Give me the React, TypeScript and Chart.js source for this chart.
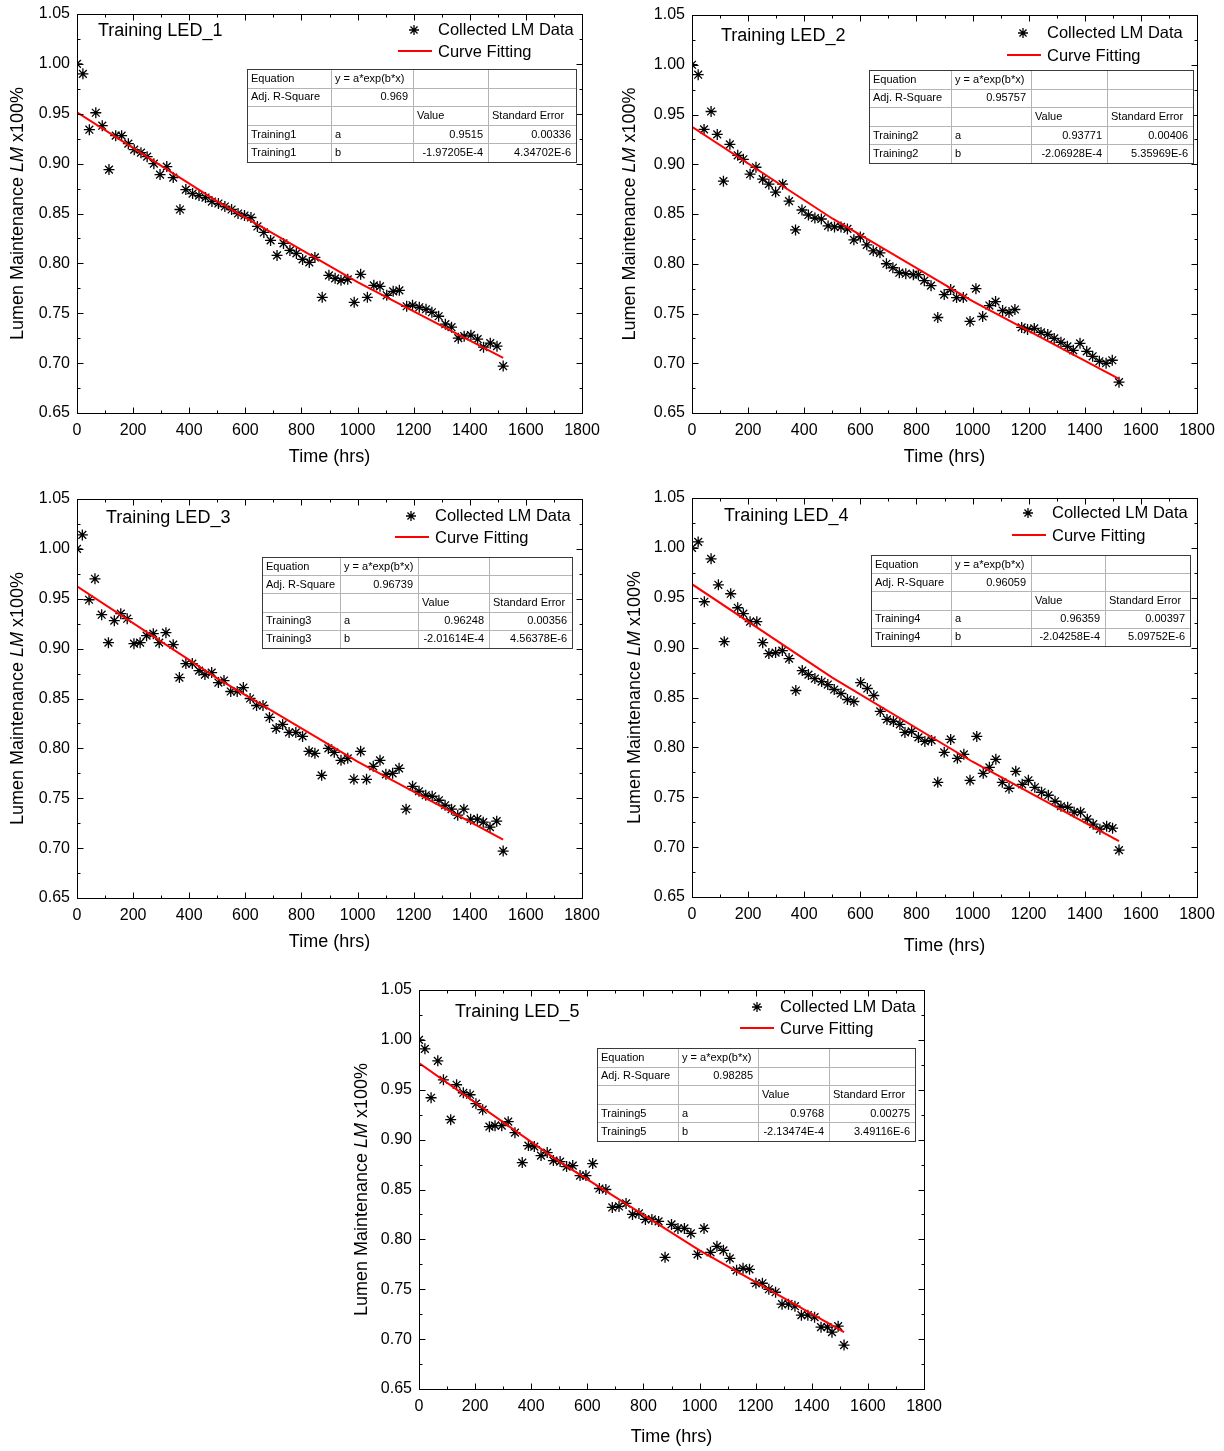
import React, { useEffect, useRef } from 'react';
import { Chart, registerables } from 'chart.js';

Chart.register(...registerables);

const FONT = '"Liberation Sans", Arial, Helvetica, sans-serif';

// ---------- axis ticks ----------
const xTickValues = [0, 200, 400, 600, 800, 1000, 1200, 1400, 1600, 1800];
const yTickValues = [0.65, 0.7, 0.75, 0.8, 0.85, 0.9, 0.95, 1.0, 1.05];

const tableHeader = ['Equation', 'y = a*exp(b*x)', 'Adj. R-Square', 'Value', 'Standard Error'];

// ---------- Training LED_1 ----------
const led1Time = [0, 21, 44, 67, 90, 114, 138, 159, 183, 204, 228, 250, 274, 296, 320, 343, 367, 388, 412, 435, 458, 481, 504, 527, 551, 574, 597, 620, 643, 666, 690, 713, 736, 759, 782, 804, 828, 848, 874, 898, 920, 941, 965, 988, 1011, 1035, 1058, 1080, 1104, 1127, 1149, 1175, 1196, 1220, 1244, 1265, 1289, 1313, 1335, 1359, 1380, 1404, 1428, 1449, 1473, 1497, 1519];
const led1LM = [1.000, 0.990, 0.934, 0.951, 0.938, 0.894, 0.928, 0.928, 0.920, 0.914, 0.911, 0.907, 0.900, 0.889, 0.897, 0.886, 0.854, 0.874, 0.870, 0.868, 0.866, 0.862, 0.860, 0.857, 0.854, 0.850, 0.848, 0.846, 0.837, 0.831, 0.823, 0.808, 0.820, 0.813, 0.810, 0.804, 0.801, 0.806, 0.766, 0.788, 0.785, 0.783, 0.784, 0.761, 0.789, 0.766, 0.778, 0.777, 0.768, 0.772, 0.773, 0.757, 0.758, 0.756, 0.754, 0.751, 0.747, 0.739, 0.736, 0.725, 0.727, 0.728, 0.724, 0.716, 0.720, 0.717, 0.697];
const led1FitTime = [0, 500, 1000, 1519];
const led1Fit = [0.9515, 0.8622, 0.7812, 0.7052];
const led1Params = ['0.969', '0.9515', '0.00336', '-1.97205E-4', '4.34702E-6'];

// ---------- Training LED_2 ----------
const led2Time = [0, 22, 43, 68, 90, 112, 135, 163, 183, 207, 228, 252, 274, 298, 323, 346, 369, 392, 415, 438, 461, 485, 508, 531, 554, 577, 600, 623, 646, 670, 693, 716, 739, 762, 789, 807, 828, 852, 876, 899, 922, 943, 967, 991, 1012, 1036, 1060, 1082, 1107, 1130, 1151, 1175, 1196, 1220, 1244, 1268, 1291, 1315, 1338, 1359, 1383, 1407, 1428, 1452, 1476, 1498, 1522];
const led2LM = [1.000, 0.990, 0.935, 0.953, 0.930, 0.883, 0.920, 0.909, 0.905, 0.890, 0.897, 0.885, 0.880, 0.872, 0.880, 0.863, 0.834, 0.854, 0.849, 0.846, 0.845, 0.838, 0.837, 0.837, 0.835, 0.824, 0.827, 0.819, 0.813, 0.811, 0.800, 0.796, 0.791, 0.790, 0.789, 0.789, 0.783, 0.778, 0.746, 0.769, 0.774, 0.766, 0.766, 0.742, 0.775, 0.747, 0.758, 0.762, 0.753, 0.751, 0.754, 0.736, 0.734, 0.735, 0.731, 0.729, 0.725, 0.721, 0.717, 0.713, 0.720, 0.712, 0.707, 0.702, 0.700, 0.703, 0.681];
const led2FitTime = [0, 500, 1000, 1522];
const led2Fit = [0.9377, 0.8455, 0.7624, 0.6844];
const led2Params = ['0.95757', '0.93771', '0.00406', '-2.06928E-4', '5.35969E-6'];

// ---------- Training LED_3 ----------
const led3Time = [0, 19, 43, 64, 88, 112, 133, 156, 179, 203, 225, 248, 272, 293, 317, 343, 365, 388, 411, 435, 456, 480, 504, 524, 548, 571, 593, 617, 640, 663, 686, 710, 733, 756, 780, 804, 827, 848, 872, 896, 917, 941, 965, 987, 1011, 1032, 1056, 1080, 1101, 1125, 1148, 1173, 1196, 1219, 1243, 1266, 1290, 1312, 1335, 1357, 1379, 1403, 1427, 1448, 1472, 1496, 1519];
const led3LM = [1.000, 1.014, 0.949, 0.970, 0.934, 0.906, 0.928, 0.935, 0.930, 0.905, 0.906, 0.913, 0.915, 0.906, 0.916, 0.904, 0.871, 0.885, 0.885, 0.878, 0.874, 0.876, 0.866, 0.868, 0.857, 0.857, 0.861, 0.850, 0.843, 0.843, 0.831, 0.820, 0.824, 0.816, 0.816, 0.812, 0.797, 0.795, 0.773, 0.800, 0.796, 0.788, 0.790, 0.769, 0.797, 0.769, 0.782, 0.788, 0.774, 0.775, 0.780, 0.739, 0.762, 0.757, 0.753, 0.752, 0.748, 0.743, 0.739, 0.733, 0.739, 0.729, 0.729, 0.726, 0.721, 0.727, 0.697];
const led3FitTime = [0, 500, 1000, 1519];
const led3Fit = [0.9625, 0.8702, 0.7868, 0.7086];
const led3Params = ['0.96739', '0.96248', '0.00356', '-2.01614E-4', '4.56378E-6'];

// ---------- Training LED_4 ----------
const led4Time = [0, 22, 44, 68, 94, 115, 138, 163, 183, 207, 231, 252, 274, 298, 322, 346, 370, 393, 415, 438, 462, 484, 507, 531, 554, 577, 601, 625, 648, 671, 695, 718, 741, 759, 783, 807, 830, 854, 876, 899, 922, 946, 969, 991, 1015, 1038, 1060, 1083, 1106, 1130, 1154, 1177, 1199, 1222, 1246, 1270, 1294, 1315, 1339, 1362, 1385, 1409, 1430, 1454, 1478, 1499, 1522];
const led4LM = [1.000, 1.006, 0.946, 0.989, 0.963, 0.906, 0.954, 0.940, 0.934, 0.926, 0.926, 0.905, 0.894, 0.895, 0.897, 0.889, 0.857, 0.877, 0.873, 0.869, 0.866, 0.863, 0.858, 0.854, 0.848, 0.846, 0.865, 0.859, 0.852, 0.836, 0.828, 0.826, 0.823, 0.815, 0.816, 0.810, 0.806, 0.807, 0.765, 0.795, 0.808, 0.789, 0.793, 0.767, 0.811, 0.774, 0.780, 0.788, 0.765, 0.759, 0.776, 0.763, 0.767, 0.760, 0.755, 0.752, 0.746, 0.741, 0.740, 0.735, 0.735, 0.728, 0.723, 0.718, 0.721, 0.719, 0.697];
const led4FitTime = [0, 500, 1000, 1522];
const led4Fit = [0.9636, 0.8700, 0.7856, 0.7061];
const led4Params = ['0.96059', '0.96359', '0.00397', '-2.04258E-4', '5.09752E-6'];

// ---------- Training LED_5 ----------
const led5Time = [0, 21, 43, 67, 87, 113, 134, 158, 182, 203, 227, 251, 271, 295, 318, 342, 368, 390, 411, 435, 457, 479, 503, 526, 548, 574, 595, 619, 643, 666, 689, 713, 738, 761, 784, 807, 830, 854, 877, 900, 923, 946, 969, 993, 1016, 1039, 1062, 1085, 1108, 1132, 1155, 1178, 1201, 1224, 1247, 1271, 1294, 1317, 1340, 1363, 1386, 1410, 1433, 1456, 1472, 1494, 1515];
const led5LM = [1.000, 0.991, 0.942, 0.979, 0.960, 0.920, 0.955, 0.947, 0.945, 0.936, 0.930, 0.913, 0.914, 0.914, 0.918, 0.907, 0.877, 0.894, 0.893, 0.884, 0.887, 0.879, 0.878, 0.873, 0.874, 0.864, 0.864, 0.876, 0.851, 0.850, 0.832, 0.833, 0.836, 0.825, 0.826, 0.820, 0.820, 0.818, 0.782, 0.815, 0.811, 0.811, 0.806, 0.785, 0.811, 0.787, 0.793, 0.789, 0.781, 0.769, 0.771, 0.770, 0.756, 0.756, 0.750, 0.747, 0.735, 0.735, 0.733, 0.724, 0.724, 0.722, 0.712, 0.712, 0.707, 0.713, 0.694];
const led5FitTime = [0, 500, 1000, 1515];
const led5Fit = [0.9768, 0.8779, 0.7890, 0.7069];
const led5Params = ['0.98285', '0.9768', '0.00275', '-2.13474E-4', '3.49116E-6'];

// ---------- layout (positions only) ----------
type Layout = {
  x: number; y: number; w: number; h: number;
  area: { l: number; t: number; r: number; b: number };
  title: [number, number];
  legendStar: [number, number];
  legendLineY: number;
  legendText: number;
  table: { x: number; y: number; cols: number[]; h: number };
  yTitleX: number;
  xTitleY: number;
};

const layouts: Layout[] = [
  { x: 0, y: 0, w: 612, h: 475, area: { l: 77, t: 14, r: 582, b: 413 }, title: [98, 31], legendStar: [414, 30], legendLineY: 51, legendText: 438, table: { x: 247, y: 69, cols: [84, 82, 75, 88], h: 93 }, yTitleX: 18, xTitleY: 457 },
  { x: 612, y: 0, w: 612, h: 475, area: { l: 80, t: 15, r: 585, b: 413 }, title: [109, 36], legendStar: [411, 33], legendLineY: 55, legendText: 435, table: { x: 257, y: 70, cols: [82, 80, 76, 86], h: 93 }, yTitleX: 18, xTitleY: 457 },
  { x: 0, y: 485, w: 612, h: 480, area: { l: 77, t: 14, r: 582, b: 413 }, title: [106, 33], legendStar: [411, 31], legendLineY: 52, legendText: 435, table: { x: 262, y: 72, cols: [78, 78, 71, 83], h: 91 }, yTitleX: 18, xTitleY: 457 },
  { x: 612, y: 485, w: 612, h: 480, area: { l: 80, t: 13, r: 585, b: 412 }, title: [112, 31], legendStar: [416, 28], legendLineY: 50, legendText: 440, table: { x: 259, y: 70, cols: [80, 80, 74, 85], h: 91 }, yTitleX: 23, xTitleY: 461 },
  { x: 340, y: 975, w: 612, h: 476, area: { l: 79, t: 15, r: 584, b: 414 }, title: [115, 37], legendStar: [417, 32], legendLineY: 53, legendText: 440, table: { x: 257, y: 73, cols: [81, 80, 71, 86], h: 93 }, yTitleX: 22, xTitleY: 462 },
];

type Panel = {
  name: string; label: string; time: number[]; lm: number[];
  fitTime: number[]; fit: number[]; params: string[]; layout: Layout;
};

const panels: Panel[] = [
  { name: 'Training LED_1', label: 'Training1', time: led1Time, lm: led1LM, fitTime: led1FitTime, fit: led1Fit, params: led1Params, layout: layouts[0] },
  { name: 'Training LED_2', label: 'Training2', time: led2Time, lm: led2LM, fitTime: led2FitTime, fit: led2Fit, params: led2Params, layout: layouts[1] },
  { name: 'Training LED_3', label: 'Training3', time: led3Time, lm: led3LM, fitTime: led3FitTime, fit: led3Fit, params: led3Params, layout: layouts[2] },
  { name: 'Training LED_4', label: 'Training4', time: led4Time, lm: led4LM, fitTime: led4FitTime, fit: led4Fit, params: led4Params, layout: layouts[3] },
  { name: 'Training LED_5', label: 'Training5', time: led5Time, lm: led5LM, fitTime: led5FitTime, fit: led5Fit, params: led5Params, layout: layouts[4] },
];

function drawStar(ctx: CanvasRenderingContext2D, x: number, y: number, r: number) {
  ctx.beginPath();
  for (let k = 0; k < 4; k++) {
    const a = (k * Math.PI) / 4;
    const dx = Math.cos(a) * r, dy = Math.sin(a) * r;
    ctx.moveTo(x - dx, y - dy);
    ctx.lineTo(x + dx, y + dy);
  }
  ctx.stroke();
}

function drawTable(ctx: CanvasRenderingContext2D, p: Panel) {
  const T = p.layout.table;
  const rh = T.h / 5;
  const total = T.cols.reduce((s, c) => s + c, 0);
  const edges = [T.x];
  T.cols.forEach((c) => edges.push(edges[edges.length - 1] + c));
  const X = Math.round(T.x) + 0.5;
  const Y = Math.round(T.y) + 0.5;
  ctx.fillStyle = '#ffffff';
  ctx.fillRect(X, Y, total, T.h);
  ctx.lineWidth = 1;
  ctx.strokeStyle = '#b4b4b4';
  ctx.beginPath();
  for (let i = 1; i < 5; i++) {
    const yy = Math.round(T.y + i * rh) + 0.5;
    ctx.moveTo(X, yy);
    ctx.lineTo(X + total, yy);
  }
  for (let j = 1; j < 4; j++) {
    const xx = Math.round(edges[j]) + 0.5;
    ctx.moveTo(xx, Y);
    ctx.lineTo(xx, Y + T.h);
  }
  ctx.stroke();
  ctx.strokeStyle = '#3a3a3a';
  ctx.strokeRect(X, Y, Math.round(total), Math.round(T.h));

  const [r2, a, aErr, b, bErr] = p.params;
  const rows: [string, 'l' | 'r'][][] = [
    [[tableHeader[0], 'l'], [tableHeader[1], 'l'], ['', 'l'], ['', 'l']],
    [[tableHeader[2], 'l'], [r2, 'r'], ['', 'l'], ['', 'l']],
    [['', 'l'], ['', 'l'], [tableHeader[3], 'l'], [tableHeader[4], 'l']],
    [[p.label, 'l'], ['a', 'l'], [a, 'r'], [aErr, 'r']],
    [[p.label, 'l'], ['b', 'l'], [b, 'r'], [bErr, 'r']],
  ];
  ctx.fillStyle = '#000';
  ctx.font = '11px ' + FONT;
  ctx.textBaseline = 'middle';
  rows.forEach((row, i) => {
    const cy = T.y + (i + 0.5) * rh + 0.5;
    row.forEach(([txt, al], j) => {
      if (!txt) return;
      if (al === 'l') {
        ctx.textAlign = 'left';
        ctx.fillText(txt, edges[j] + 4, cy);
      } else {
        ctx.textAlign = 'right';
        ctx.fillText(txt, edges[j + 1] - 5, cy);
      }
    });
  });
}

function overlayPlugin(p: Panel) {
  return {
    id: 'overlay',
    afterDraw(chart: any) {
      const ctx: CanvasRenderingContext2D = chart.ctx;
      const L = p.layout;
      const { left, top, right, bottom } = chart.chartArea;
      const xs = chart.scales.x;
      const ys = chart.scales.y;
      ctx.save();
      ctx.strokeStyle = '#000';
      ctx.lineWidth = 1;
      const l = Math.round(left) + 0.5, t = Math.round(top) + 0.5;
      const r = Math.round(right) + 0.5, b = Math.round(bottom) + 0.5;
      ctx.strokeRect(l, t, r - l, b - t);
      // inward ticks on all four sides
      ctx.beginPath();
      const xMinor: number[] = [];
      for (let i = 0; i < xTickValues.length - 1; i++) xMinor.push((xTickValues[i] + xTickValues[i + 1]) / 2);
      const yMinor: number[] = [];
      for (let i = 0; i < yTickValues.length - 1; i++) yMinor.push((yTickValues[i] + yTickValues[i + 1]) / 2);
      const xt = (v: number, len: number) => {
        const px = Math.round(xs.getPixelForValue(v)) + 0.5;
        ctx.moveTo(px, b); ctx.lineTo(px, b - len);
        ctx.moveTo(px, t); ctx.lineTo(px, t + len);
      };
      const yt = (v: number, len: number) => {
        const py = Math.round(ys.getPixelForValue(v)) + 0.5;
        ctx.moveTo(l, py); ctx.lineTo(l + len, py);
        ctx.moveTo(r, py); ctx.lineTo(r - len, py);
      };
      xTickValues.forEach((v) => xt(v, 6));
      xMinor.forEach((v) => xt(v, 3));
      yTickValues.forEach((v) => yt(v, 6));
      yMinor.forEach((v) => yt(v, 3));
      ctx.stroke();

      // panel title
      ctx.fillStyle = '#000';
      ctx.font = '18px ' + FONT;
      ctx.textAlign = 'left';
      ctx.textBaseline = 'middle';
      ctx.fillText(p.name, L.title[0], L.title[1]);

      // legend
      ctx.font = '16.5px ' + FONT;
      ctx.lineWidth = 1.3;
      ctx.strokeStyle = '#000';
      drawStar(ctx, L.legendStar[0], L.legendStar[1], 5);
      ctx.fillText(chart.data.datasets[1].label, L.legendText, L.legendStar[1]);
      ctx.strokeStyle = '#ff0000';
      ctx.lineWidth = 2;
      ctx.beginPath();
      ctx.moveTo(L.legendText - 40, L.legendLineY);
      ctx.lineTo(L.legendText - 6, L.legendLineY);
      ctx.stroke();
      ctx.fillText(chart.data.datasets[0].label, L.legendText, L.legendLineY + 1);

      // stats table
      drawTable(ctx, p);

      // axis titles
      ctx.fillStyle = '#000';
      ctx.font = '18px ' + FONT;
      ctx.textAlign = 'center';
      ctx.textBaseline = 'middle';
      ctx.fillText('Time (hrs)', (left + right) / 2, L.xTitleY);

      const parts: [string, boolean][] = [['Lumen Maintenance ', false], ['LM', true], [' x100%', false]];
      let total = 0;
      parts.forEach(([s, it]) => {
        ctx.font = (it ? 'italic ' : '') + '18px ' + FONT;
        total += ctx.measureText(s).width;
      });
      ctx.translate(L.yTitleX, (top + bottom) / 2);
      ctx.rotate(-Math.PI / 2);
      ctx.textAlign = 'left';
      let cx = -total / 2;
      parts.forEach(([s, it]) => {
        ctx.font = (it ? 'italic ' : '') + '18px ' + FONT;
        ctx.fillText(s, cx, 0);
        cx += ctx.measureText(s).width;
      });
      ctx.restore();
    },
  };
}

function PanelChart({ p }: { p: Panel }) {
  const ref = useRef<HTMLCanvasElement | null>(null);
  const L = p.layout;
  useEffect(() => {
    if (!ref.current) return;
    const chart = new Chart(ref.current, {
      type: 'scatter',
      data: {
        datasets: [
          {
            label: 'Curve Fitting',
            data: p.fitTime.map((x, i) => ({ x, y: p.fit[i] })),
            showLine: true,
            borderColor: '#ff0000',
            backgroundColor: '#ff0000',
            borderWidth: 2,
            pointRadius: 0,
            tension: 0,
            order: 0,
          } as any,
          {
            label: 'Collected LM Data',
            data: p.time.map((x, i) => ({ x, y: p.lm[i] })),
            showLine: false,
            pointStyle: 'star',
            pointRadius: 5.5,
            pointBorderWidth: 1.3,
            borderColor: '#000',
            backgroundColor: '#000',
            clip: 0,
            order: 1,
          } as any,
        ],
      },
      options: {
        animation: false,
        responsive: false,
        devicePixelRatio: 1,
        events: [],
        layout: {
          autoPadding: false,
          padding: { left: 0, top: L.area.t, right: L.w - L.area.r, bottom: 0 },
        } as any,
        plugins: { legend: { display: false }, tooltip: { enabled: false }, title: { display: false } },
        scales: {
          x: {
            type: 'linear',
            min: 0,
            max: 1800,
            grid: { display: false, drawTicks: false },
            border: { display: false },
            afterBuildTicks: (s: any) => { s.ticks = xTickValues.map((v) => ({ value: v })); },
            ticks: {
              color: '#000',
              font: { family: FONT, size: 16 },
              padding: 8,
              maxRotation: 0,
              autoSkip: false,
              callback: (v: any) => String(v),
            },
            afterFit: (s: any) => { s.height = L.h - L.area.b; s.paddingLeft = 0; s.paddingRight = 0; },
          },
          y: {
            type: 'linear',
            min: 0.65,
            max: 1.05,
            grid: { display: false, drawTicks: false },
            border: { display: false },
            afterBuildTicks: (s: any) => { s.ticks = yTickValues.map((v) => ({ value: v })); },
            ticks: {
              color: '#000',
              font: { family: FONT, size: 16 },
              padding: 7,
              autoSkip: false,
              callback: (v: any) => Number(v).toFixed(2),
            },
            afterFit: (s: any) => { s.width = L.area.l; s.paddingTop = 0; s.paddingBottom = 0; },
          },
        },
      } as any,
      plugins: [overlayPlugin(p)],
    });
    return () => chart.destroy();
  }, []);
  return (
    <canvas
      ref={ref}
      width={L.w}
      height={L.h}
      style={{ position: 'absolute', left: L.x, top: L.y, width: L.w, height: L.h }}
    />
  );
}

export default function App() {
  return (
    <div style={{ position: 'absolute', left: 0, top: 0, width: 1224, height: 1451, background: '#ffffff', overflow: 'hidden' }}>
      {panels.map((p) => (
        <PanelChart key={p.name} p={p} />
      ))}
    </div>
  );
}
